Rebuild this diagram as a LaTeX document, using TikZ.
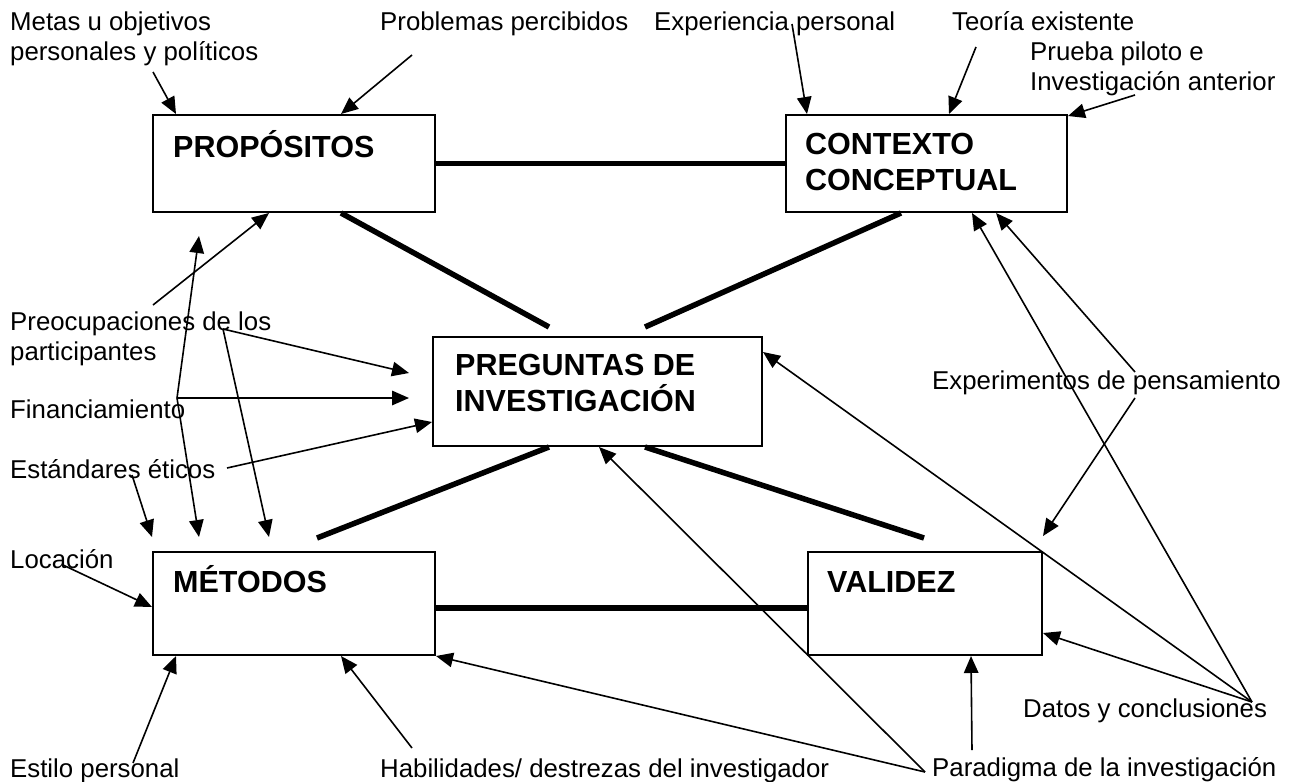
\documentclass[tikz,border=0pt]{standalone}
\usepackage{fontspec}
\setmainfont{Liberation Sans}
\usetikzlibrary{arrows.meta,calc}
\newcommand{\lblfont}{\fontsize{25.8}{30}\selectfont}
\newcommand{\bxfont}{\bfseries\fontsize{30.5}{36.5}\selectfont}
\tikzset{
  box/.style={draw, line width=2pt, inner sep=0pt},
  lbl/.style={font=\lblfont, inner sep=0pt, align=left},
  btxt/.style={font=\bxfont, inner sep=0pt, align=left},
  arr/.style={line width=1.6pt, -{Triangle[length=17pt,width=14.5pt]}},
  link/.style={line width=5.5pt},
}
\begin{document}
\begin{tikzpicture}[x=1pt,y=-1pt]
\path[use as bounding box, fill=white] (0,0) rectangle (1291,782);

% boxes
\node[box, minimum width=282pt, minimum height=97pt]  (P) at (294,163.5) {};
\node[box, minimum width=281pt, minimum height=97pt]  (C) at (926.5,163.5) {};
\node[box, minimum width=329pt, minimum height=109pt] (Q) at (597.5,391.5) {};
\node[box, minimum width=282pt, minimum height=103pt] (M) at (294,603.5) {};
\node[box, minimum width=234pt, minimum height=103pt] (V) at (925,603.5) {};

% box texts
\node[btxt, anchor=base west]  (Pt) at (173,157) {PROPÓSITOS};
\node[btxt, anchor=north west] (Ct) at (805,130) {\rule{0pt}{24pt}CONTEXTO\\CONCEPTUAL};
\node[btxt, anchor=north west] (Qt) at (455,351) {\rule{0pt}{24pt}PREGUNTAS DE\\INVESTIGACIÓN};
\node[btxt, anchor=base west]  (Mt) at (173,592) {MÉTODOS};
\node[btxt, anchor=base west]  (Vt) at (827,592) {VALIDEZ};

% labels
\node[lbl, anchor=north west] (metas) at (10,10) {\rule{0pt}{20pt}Metas u objetivos\\personales y políticos};
\node[lbl, anchor=base west] (probl) at (380,30) {Problemas percibidos};
\node[lbl, anchor=base west] (exper) at (654,30) {Experiencia personal};
\node[lbl, anchor=base west] (teoria) at (952,30) {Teoría existente};
\node[lbl, anchor=north west] (prueba) at (1030,40) {\rule{0pt}{20pt}Prueba piloto e\\Investigación anterior};
\node[lbl, anchor=north west] (preoc) at (10,310) {\rule{0pt}{20pt}Preocupaciones de los\\participantes};
\node[lbl, anchor=base west] (financ) at (10,418) {Financiamiento};
\node[lbl, anchor=base west] (estand) at (10,478) {Estándares éticos};
\node[lbl, anchor=base west] (locac) at (10,568) {Locación};
\node[lbl, anchor=base west] (estilo) at (10,777) {Estilo personal};
\node[lbl, anchor=base west] (habil) at (380,777) {Habilidades/ destrezas del investigador};
\node[lbl, anchor=base west] (parad) at (932,776) {Paradigma de la investigación};
\node[lbl, anchor=base west] (datos) at (1023,717) {Datos y conclusiones};
\node[lbl, anchor=base west] (experim) at (932,389) {Experimentos de pensamiento};

% arrow start points
\coordinate (metasA) at (153,72);
\coordinate (problA) at (412,55);
\coordinate (experA) at (792,24);
\coordinate (teoriaA) at (976,47);
\coordinate (pruebaA) at (1135,95);
\coordinate (preocA) at (153,305);
\coordinate (preocB) at (223,329);
\coordinate (financA) at (177,398);
\coordinate (estandA) at (227,468);
\coordinate (estandB) at (132,475);
\coordinate (locacA) at (63,565);
\coordinate (estiloA) at (133,763);
\coordinate (habilA) at (412,748);
\coordinate (paradA) at (925,772);
\coordinate (paradB) at (972,750);
\coordinate (datosA) at (1252,702);
\coordinate (experimA) at (1135,372);
\coordinate (experimB) at (1135,398);

% thick links
\draw[link] (P.east) -- (C.west);
\draw[link] ($(M.east)+(0,4.5)$) -- ($(V.west)+(0,4.5)$);
\draw[link] ($(P.south west)+(189,0)$) -- ($(Q.north west)+(117,-9)$);
\draw[link] ($(C.south west)+(116,0)$) -- ($(Q.north west)+(213,-9)$);
\draw[link] ($(Q.south west)+(117,0)$) -- ($(M.north west)+(165,-13)$);
\draw[link] ($(Q.south west)+(213,0)$) -- ($(V.north west)+(117,-13)$);

% arrows
\draw[arr] (metasA) -- ($(P.north west)+(24,0)$);
\draw[arr] (problA) -- ($(P.north west)+(189,0)$);
\draw[arr] (experA) -- ($(C.north west)+(22,0)$);
\draw[arr] (teoriaA) -- ($(C.north west)+(164,0)$);
\draw[arr] (pruebaA) -- ($(C.north east)+(0,2)$);
\draw[arr] (preocA) -- ($(P.south west)+(117,0)$);
\draw[arr] (financA) -- ($(P.south west)+(47,23)$);
\draw[arr] (preocB) -- ($(Q.west)+(-23,-18.5)$);
\draw[arr] (financA) -- ($(Q.west)+(-23,6.5)$);
\draw[arr] (estandA) -- ($(Q.west)+(0,30.5)$);
\draw[arr] (preocB) -- ($(M.north west)+(117,-14)$);
\draw[arr] (financA) -- ($(M.north west)+(47,-14)$);
\draw[arr] (estandB) -- ($(M.north west)+(0,-14)$);
\draw[arr] (locacA) -- ($(M.west)+(0,3.5)$);
\draw[arr] (estiloA) -- ($(M.south west)+(24,0)$);
\draw[arr] (habilA) -- ($(M.south west)+(189,0)$);
\draw[arr] (paradA) -- (M.south east);
\draw[arr] (paradA) -- ($(Q.south west)+(167,0)$);
\draw[arr] (paradB) -- ($(V.south west)+(164,0)$);
\draw[arr] (datosA) -- ($(V.east)+(0,29.5)$);
\draw[arr] (datosA) -- ($(Q.north east)+(0,16)$);
\draw[arr] (datosA) -- ($(C.south west)+(187,0)$);
\draw[arr] (experimA) -- ($(C.south west)+(211,0)$);
\draw[arr] (experimB) -- ($(V.north east)+(0,-15)$);
\end{tikzpicture}
\end{document}
